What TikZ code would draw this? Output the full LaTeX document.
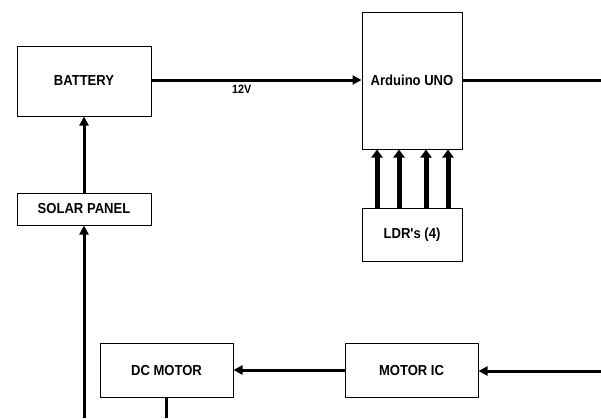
\documentclass[tikz,border=0pt]{standalone}
\usepackage{fontspec}
\setmainfont{Liberation Sans}
\newfontfamily\blockfont[FakeStretch=0.9]{Liberation Sans}
\usetikzlibrary{arrows.meta}
\begin{document}
\begin{tikzpicture}[x=1pt, y=-1pt,
    block/.style={rectangle, draw, line width=1pt, inner sep=0pt, align=center, font=\blockfont\fontsize{14.5}{16}\selectfont\bfseries},
    wire/.style={line width=3pt},
    arrow/.style={-{Triangle[length=9pt,width=9pt]}, line width=3pt},
    ldrarrow/.style={-{Triangle[length=8pt,width=11pt]}, line width=5pt}
]
    \useasboundingbox (0,0) rectangle (601,418);

    % Power side
    \node[block, minimum width=134pt, minimum height=70pt] (battery) at (84,81) {BATTERY};
    \node[block, minimum width=134pt, minimum height=32pt] (solar) at (84,209) {SOLAR PANEL};

    % Controller and sensors
    \node[block, minimum width=100pt, minimum height=137pt] (arduino) at (412,80.5) {Arduino UNO};
    \node[block, minimum width=100pt, minimum height=53pt] (ldr) at (412,234.5) {LDR's (4)};

    % Motor stage
    \node[block, minimum width=133pt, minimum height=54pt] (dcmotor) at (166.5,370) {DC MOTOR};
    \node[block, minimum width=133pt, minimum height=54pt] (motoric) at (411.5,370) {MOTOR IC};

    % Free ends at the picture edge
    \coordinate (arduinoout) at (601,80);
    \coordinate (motoricin) at (601,371);
    \coordinate (solarin) at (84,418);
    \coordinate (motorout) at (166.5,418);

    % Arrows
    \draw[arrow] (battery.east |- 0,80) -- (arduino.west |- 0,80) node[pos=0.43, below=0pt, font=\blockfont\fontsize{12}{13}\selectfont\bfseries] {12V};
    \draw[wire] (arduino.east |- arduinoout) -- (arduinoout);
    \draw[arrow] (solar) -- (battery);
    \draw[arrow] (solarin) -- (solar);
    \foreach \dx in {-35,-13,14,36}
        \draw[ldrarrow] ([xshift=\dx pt]ldr.north) -- ([xshift=\dx pt]arduino.south);
    \draw[arrow] (motoricin) -- (motoric.east |- motoricin);
    \draw[arrow] (motoric) -- (dcmotor);
    \draw[wire] (dcmotor) -- (motorout);
\end{tikzpicture}
\end{document}
